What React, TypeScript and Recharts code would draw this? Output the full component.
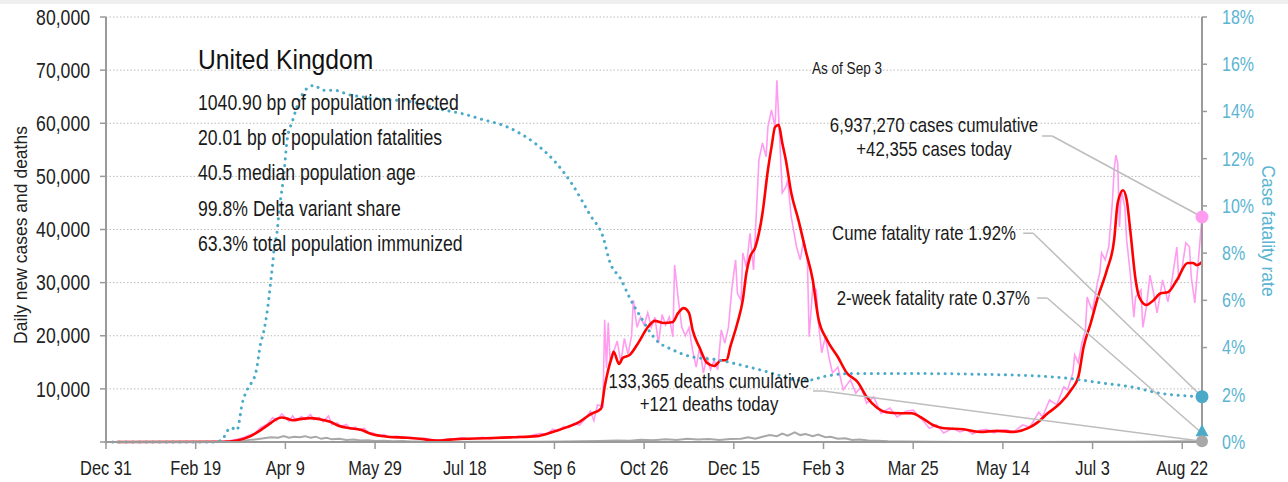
import React from "react";
import {
  CartesianGrid,
  ComposedChart,
  Line,
  ReferenceDot,
  ReferenceLine,
  XAxis,
  YAxis,
} from "recharts";

// no narrow face installed, so squeeze Liberation Sans horizontally
const FONT = "'Liberation Sans', Arial, sans-serif";
const SX = 0.82;
const PINK = "#ff9cf0";
const RED = "#ff0000";
const GREY = "#a8a8a8";
const TEAL = "#4aaac8";
const TEAL_TEXT = "#5ab4d2";
const LEADER = "#bdbdbd";

// x axis: days since Dec 31, 2019
const tickDays = [0, 50, 100, 150, 200, 250, 300, 350, 400, 450, 500, 550, 600];
const tickLabels = [
  "Dec 31", "Feb 19", "Apr 9", "May 29", "Jul 18", "Sep 6", "Oct 26",
  "Dec 15", "Feb 3", "Mar 25", "May 14", "Jul 3", "Aug 22",
];
const caseTicks = [0, 10, 20, 30, 40, 50, 60, 70, 80]; // thousands
const rateTicks = [0, 2, 4, 6, 8, 10, 12, 14, 16, 18];

// [day, daily new cases in thousands]
const dailyCases: [number, number][] = [
  [0, 0], [60, 0], [66, 0.1], [70, 0.3], [74, 0.6], [77, 0.9], [80, 1.3], [83, 1.6],
  [86, 2.7], [88, 3.0], [90, 3.4], [93, 4.6], [95, 4.0], [98, 5.3], [100, 4.6], [102, 3.9],
  [104, 4.9], [106, 4.0], [109, 4.8], [111, 4.2], [114, 5.2], [116, 4.2], [119, 4.6], [121, 3.8],
  [124, 4.9], [126, 3.3], [129, 3.6], [131, 2.9], [134, 3.3], [136, 2.5], [139, 2.8], [141, 2.2],
  [144, 2.6], [146, 1.8], [149, 1.7], [152, 1.2], [155, 1.4], [158, 0.9], [162, 1.1], [166, 0.8],
  [170, 0.9], [174, 0.6], [178, 0.7], [182, 0.4], [186, 0.35], [190, 0.5], [194, 0.6], [198, 0.8],
  [202, 0.6], [206, 0.7], [210, 0.9], [214, 0.6], [218, 0.8], [222, 1.0], [226, 0.8], [230, 1.1],
  [234, 0.9], [238, 1.3], [242, 1.6], [246, 1.5], [249, 2.4], [252, 2.0], [255, 2.9], [258, 2.7],
  [261, 3.5], [264, 3.2], [267, 4.3], [270, 5.8], [272, 4.0], [274, 7.0], [276, 6.8], [277, 6.6],
  [278, 23.0], [279, 14.0], [280, 22.5], [281, 15.5], [283, 17.0], [285, 19.0], [287, 15.0],
  [289, 19.5], [291, 16.5], [293, 20.0], [294, 26.7], [296, 21.6], [298, 23.5], [300, 22.0],
  [302, 24.3], [304, 21.6], [306, 23.5], [308, 18.6], [310, 24.0], [312, 22.0], [314, 23.5],
  [316, 19.8], [317, 33.3], [319, 27.0], [321, 21.6], [323, 20.0], [325, 21.5], [327, 17.3],
  [329, 14.1], [331, 17.9], [333, 13.0], [335, 16.0], [337, 13.6], [339, 15.4], [341, 13.6],
  [343, 21.1], [345, 18.6], [347, 21.6], [349, 29.2], [351, 34.3], [352, 28.0], [354, 26.7],
  [355, 35.6], [357, 32.9], [359, 39.3], [361, 32.4], [364, 53.1], [366, 56.3], [368, 53.7],
  [369, 59.3], [371, 62.5], [373, 59.3], [374, 68.1], [375, 61.2], [377, 46.9], [379, 48.0],
  [380, 49.3], [382, 42.4], [383, 40.5], [385, 36.7], [387, 34.3], [389, 38.0], [391, 34.3],
  [392, 19.8], [394, 29.2], [396, 28.6], [397, 23.0], [399, 16.8], [401, 19.8], [403, 16.0],
  [405, 13.0], [408, 14.1], [411, 9.8], [415, 11.7], [418, 9.2], [421, 10.4], [424, 7.3],
  [428, 8.5], [432, 5.4], [437, 6.4], [441, 4.7], [446, 5.8], [450, 6.0], [456, 3.8], [459, 2.6],
  [463, 3.2], [467, 1.7], [472, 2.6], [476, 1.9], [480, 2.3], [483, 1.5], [487, 2.2], [491, 2.4],
  [495, 1.7], [499, 2.2], [502, 2.3], [506, 1.9], [511, 3.2], [515, 2.8], [520, 5.6], [522, 4.7],
  [526, 7.9], [530, 7.0], [534, 10.4], [536, 9.8], [539, 13.0], [540, 16.4], [542, 14.9],
  [544, 18.6], [546, 21.0], [547, 27.3], [549, 25.4], [550, 24.8], [553, 30.5], [554, 31.8],
  [555, 35.6], [557, 34.3], [559, 36.7], [561, 45.0], [562, 51.2], [563, 54.0], [564, 52.5],
  [565, 40.5], [566, 47.4], [568, 44.2], [569, 38.0], [571, 31.8], [573, 23.5], [574, 27.3],
  [577, 28.6], [578, 21.6], [580, 25.4], [582, 31.4], [584, 28.0], [586, 24.3], [589, 30.5],
  [590, 29.2], [592, 26.4], [594, 29.9], [597, 36.7], [598, 30.5], [600, 33.0], [602, 37.5],
  [604, 36.7], [605, 31.1], [607, 26.2], [609, 34.3], [611, 42.355],
];

// [day, 7-day average of new cases in thousands]
const avgCases: [number, number][] = [
  [6, 0], [65, 0.05], [73, 0.3], [80, 1.0], [86, 2.2], [92, 3.6], [95, 4.3], [98, 4.6],
  [101, 4.4], [104, 4.1], [108, 4.3], [114, 4.5], [119, 4.3], [125, 3.8], [130, 3.0], [136, 2.6],
  [142, 2.3], [148, 1.5], [157, 1.0], [168, 0.8], [175, 0.6], [185, 0.25], [190, 0.4], [199, 0.6],
  [212, 0.7], [227, 0.9], [240, 1.1], [249, 1.9], [257, 2.8], [264, 3.8], [270, 5.2], [276, 6.3],
  [278, 10.4], [280, 13.6], [282, 16.0], [283, 17.0], [286, 14.7], [288, 15.8], [292, 16.4],
  [297, 18.8], [302, 21.6], [306, 22.8], [311, 22.4], [316, 22.6], [319, 24.3], [322, 25.2],
  [325, 24.3], [327, 21.1], [331, 17.7], [335, 14.9], [339, 14.3], [343, 15.4], [346, 15.4],
  [348, 17.9], [352, 22.4], [355, 26.7], [357, 31.8], [359, 34.8], [362, 36.7], [366, 43.1],
  [369, 51.2], [371, 55.5], [373, 59.3], [375, 59.7], [377, 56.3], [379, 53.1], [382, 46.9],
  [386, 41.8], [390, 36.1], [394, 30.5], [397, 23.5], [402, 19.2], [408, 16.0], [413, 13.0],
  [419, 11.3], [424, 8.5], [430, 6.4], [435, 5.6], [443, 5.4], [449, 5.4], [455, 4.5], [461, 3.2],
  [467, 2.6], [478, 2.4], [487, 1.9], [497, 2.1], [506, 1.9], [514, 2.6], [519, 3.6], [525, 5.4],
  [532, 7.3], [538, 9.8], [542, 12.2], [545, 17.9], [549, 22.4], [553, 27.3], [558, 32.4],
  [562, 38.0], [564, 45.0], [567, 47.4], [569, 45.6], [571, 39.9], [574, 30.5], [576, 27.3],
  [580, 25.8], [584, 26.7], [588, 28.0], [592, 28.2], [597, 30.5], [603, 33.7], [606, 33.7],
  [608, 33.3], [611, 33.9],
];

// [day, daily deaths in thousands]
const dailyDeaths: [number, number][] = [
  [0, 0], [60, 0], [66, 0.02], [72, 0.1], [76, 0.2], [80, 0.4], [84, 0.5], [88, 0.7], [92, 0.9],
  [96, 0.8], [99, 1.1], [102, 0.8], [105, 1.0], [108, 0.9], [111, 1.1], [114, 0.8], [117, 1.0],
  [120, 0.6], [123, 0.8], [126, 0.5], [130, 0.6], [134, 0.4], [138, 0.45], [142, 0.3], [146, 0.35],
  [150, 0.2], [155, 0.25], [160, 0.15], [165, 0.17], [170, 0.1], [180, 0.08], [200, 0.06],
  [220, 0.05], [240, 0.06], [255, 0.1], [265, 0.12], [275, 0.2], [285, 0.3], [292, 0.25],
  [298, 0.4], [305, 0.35], [312, 0.5], [318, 0.4], [324, 0.6], [330, 0.45], [336, 0.55],
  [342, 0.4], [348, 0.55], [354, 0.6], [358, 0.9], [362, 0.6], [366, 1.0], [370, 1.3], [374, 1.1],
  [377, 1.6], [380, 1.2], [384, 1.8], [387, 1.3], [390, 1.5], [394, 1.1], [397, 1.4], [401, 0.9],
  [404, 1.0], [408, 0.6], [412, 0.7], [416, 0.4], [420, 0.45], [425, 0.3], [430, 0.25],
  [436, 0.15], [445, 0.1], [460, 0.05], [480, 0.02], [520, 0.01], [550, 0.03], [570, 0.06],
  [590, 0.1], [605, 0.12], [611, 0.121],
];

// [day, cumulative case fatality rate in %]
const fatalityRate: [number, number][] = [
  [0, 0], [60, 0], [65, 0.1], [67, 0.4], [70, 0.6], [73, 0.5], [76, 1.65], [78, 2.1], [81, 2.5],
  [83, 2.8], [84, 3.1], [86, 4.1], [88, 4.7], [90, 5.6], [92, 6.9], [93, 7.6], [94, 8.4], [95, 8.7],
  [97, 10.1], [99, 11.2], [101, 12.8], [104, 13.6], [108, 14.5], [111, 14.9], [116, 15.1],
  [121, 14.9], [127, 14.9], [136, 14.7], [145, 14.6], [157, 14.5], [171, 14.4], [186, 14.1],
  [199, 13.9], [208, 13.7], [225, 13.3], [240, 12.6], [250, 11.9], [260, 10.9], [270, 9.6],
  [277, 8.7], [281, 7.6], [287, 6.9], [292, 6.1], [298, 5.3], [307, 4.3], [316, 3.9], [327, 3.6],
  [339, 3.5], [346, 3.4], [357, 3.2], [372, 2.9], [383, 2.65], [390, 2.6], [402, 2.8], [415, 2.9],
  [443, 2.9], [498, 2.85], [536, 2.7], [555, 2.5], [574, 2.3], [585, 2.1], [611, 1.92],
];

const lastDay = 611;
const casesToday = 42.355;
const deathsToday = 0.121;
const cumeRate = 1.92;
const twoWeekRate = 0.37;

const infoLines = [
  "1040.90 bp of population infected",
  "20.01 bp of population fatalities",
  "40.5 median population age",
  "99.8% Delta variant share",
  "63.3% total population immunized",
];

const rows = (pairs: [number, number][]) => pairs.map(([day, v]) => ({ day, v }));
const rateOnCaseAxis = (r: number) => (r / 18) * 80;

// leader lines: [text-side start day, bend day, level in thousands, end value in thousands]
const leaders: [number, number, number, number][] = [
  [521.9, 527.5, 57.6, casesToday],
  [511.3, 516.9, 39.3, rateOnCaseAxis(cumeRate)],
  [519.1, 524.7, 27.1, rateOnCaseAxis(twoWeekRate)],
  [394.2, 399.8, 9.6, deathsToday],
];

const NText = ({ x, y, size, anchor = "start", fill = "#1a1a1a", sx = SX, dy, children }: any) => (
  <g transform={`translate(${x},${y})`}>
    <text
      transform={`scale(${sx},1)`}
      textAnchor={anchor}
      fontSize={size}
      fontFamily={FONT}
      fill={fill}
      dy={dy}
    >
      {children}
    </text>
  </g>
);

const LeftTick = (props: any) => {
  const { x, y, payload } = props;
  const v = payload.value as number;
  if (v === 0) return <g />;
  return (
    <NText x={x} y={y} size={21.5} anchor="end" dy="0.355em" fill="#222">
      {(v * 1000).toLocaleString("en-US")}
    </NText>
  );
};

const RightTick = (props: any) => {
  const { x, y, payload } = props;
  return (
    <NText x={x} y={y} size={19.5} anchor="start" dy="0.355em" fill={TEAL_TEXT}>
      {`${payload.value}%`}
    </NText>
  );
};

const BottomTick = (props: any) => {
  const { x, y, payload } = props;
  return (
    <NText x={x} y={y} size={20} anchor="middle" dy="0.71em" fill="#222">
      {tickLabels[tickDays.indexOf(payload.value)]}
    </NText>
  );
};

const Triangle = (props: any) => {
  const { cx, cy } = props;
  return <path d={`M${cx},${cy - 9} L${cx + 6.5},${cy + 3} L${cx - 6.5},${cy + 3} Z`} fill={TEAL} />;
};

export default function App() {
  return (
    <div style={{ position: "fixed", left: 0, top: 0, width: 1288, height: 482, background: "#fff" }}>
      <div style={{ position: "absolute", left: 0, top: 0, width: 1288, height: 4, background: "#efefef" }} />
      <ComposedChart
        width={1288}
        height={482}
        margin={{ top: 17, right: 0, bottom: 0, left: 0 }}
        style={{ position: "absolute", left: 0, top: 0 }}
      >
        <CartesianGrid yAxisId="left" vertical={false} stroke="#bcbcbc" strokeDasharray="1.5 2" />
        <XAxis
          dataKey="day"
          type="number"
          domain={[0, lastDay]}
          ticks={tickDays}
          height={40}
          tickSize={7}
          tickMargin={12}
          axisLine={{ stroke: "#9a9a9a", strokeWidth: 2 }}
          tickLine={{ stroke: "#9a9a9a", strokeWidth: 1.5 }}
          tick={<BottomTick />}
          allowDuplicatedCategory={false}
        />
        <YAxis
          yAxisId="left"
          domain={[0, 80]}
          ticks={caseTicks}
          width={106}
          tickSize={6}
          tickMargin={10}
          axisLine={{ stroke: "#9a9a9a", strokeWidth: 2 }}
          tickLine={{ stroke: "#9a9a9a", strokeWidth: 1.5 }}
          tick={<LeftTick />}
        />
        <YAxis
          yAxisId="right"
          orientation="right"
          domain={[0, 18]}
          ticks={rateTicks}
          width={86}
          tickSize={5}
          tickMargin={15}
          axisLine={{ stroke: "#9a9a9a", strokeWidth: 2 }}
          tickLine={{ stroke: "#9a9a9a", strokeWidth: 1.5 }}
          tick={<RightTick />}
        />
        <Line
          yAxisId="left"
          data={rows(dailyDeaths)}
          dataKey="v"
          type="linear"
          stroke={GREY}
          strokeWidth={2}
          dot={false}
          isAnimationActive={false}
        />
        <Line
          yAxisId="left"
          data={rows(dailyCases)}
          dataKey="v"
          type="linear"
          stroke={PINK}
          strokeWidth={1.6}
          dot={false}
          isAnimationActive={false}
        />
        <Line
          yAxisId="left"
          data={rows(avgCases)}
          dataKey="v"
          type="monotone"
          stroke={RED}
          strokeWidth={2.6}
          dot={false}
          isAnimationActive={false}
        />
        <Line
          yAxisId="right"
          data={rows(fatalityRate)}
          dataKey="v"
          type="monotone"
          stroke={TEAL}
          strokeWidth={3}
          strokeDasharray="0.1 6.6"
          strokeLinecap="round"
          dot={false}
          isAnimationActive={false}
        />
        {leaders.map(([x0, x1, level], i) => (
          <ReferenceLine
            key={`h${i}`}
            yAxisId="left"
            segment={[{ x: x0, y: level }, { x: x1, y: level }]}
            stroke={LEADER}
            strokeWidth={1.5}
          />
        ))}
        {leaders.map(([, x1, level, end], i) => (
          <ReferenceLine
            key={`d${i}`}
            yAxisId="left"
            segment={[{ x: x1, y: level }, { x: lastDay, y: end }]}
            stroke={LEADER}
            strokeWidth={1.5}
          />
        ))}
        <ReferenceDot yAxisId="left" x={lastDay} y={casesToday} r={6.5} fill={PINK} stroke="none" />
        <ReferenceDot yAxisId="right" x={lastDay} y={cumeRate} r={6.5} fill={TEAL} stroke="none" />
        <ReferenceDot yAxisId="right" x={lastDay} y={twoWeekRate} r={6} shape={Triangle} />
        <ReferenceDot yAxisId="left" x={lastDay} y={deathsToday} r={6} fill={GREY} stroke="none" />
      </ComposedChart>
      <svg
        width={1288}
        height={482}
        style={{ position: "absolute", left: 0, top: 0, pointerEvents: "none" }}
      >
        <NText x={198} y={69} size={28} sx={0.88} fill="#111">United Kingdom</NText>
        {infoLines.map((t, i) => (
          <NText key={t} x={198} y={110 + i * 35.2} size={21.5}>{t}</NText>
        ))}
        <NText x={847} y={74} size={16.5} anchor="middle">As of Sep 3</NText>
        <NText x={934} y={132} size={20.5} anchor="middle">6,937,270 cases cumulative</NText>
        <NText x={934} y={156} size={20.5} anchor="middle">+42,355 cases today</NText>
        <NText x={1016} y={240} size={20.5} anchor="end">Cume fatality rate 1.92%</NText>
        <NText x={1030} y={305} size={20.5} anchor="end">2-week fatality rate 0.37%</NText>
        <NText x={709} y={388} size={20.5} anchor="middle">133,365 deaths cumulative</NText>
        <NText x={709} y={411} size={20.5} anchor="middle">+121 deaths today</NText>
        <text
          transform="translate(27,235) rotate(-90)"
          textAnchor="middle"
          fontSize={17.5}
          fontFamily={FONT}
          fill="#222"
        >
          Daily new cases and deaths
        </text>
        <text
          transform="translate(1262,231) rotate(90)"
          textAnchor="middle"
          fontSize={17.5}
          fontFamily={FONT}
          fill={TEAL_TEXT}
        >
          Case fatality rate
        </text>
      </svg>
    </div>
  );
}
